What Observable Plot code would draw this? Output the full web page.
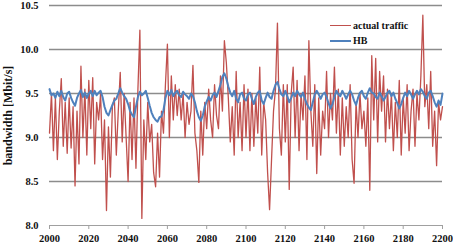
<!DOCTYPE html>
<html>
<head>
<meta charset="utf-8">
<script src="https://cdn.jsdelivr.net/npm/d3@7"></script>
<script src="https://cdn.jsdelivr.net/npm/@observablehq/plot@0.6"></script>
<style>
  html, body { margin: 0; padding: 0; background: #fff; }
  #wrap { position: relative; width: 453px; height: 250px; }
  #legend { position: absolute; left: 330px; top: 18px; font: bold 10px "Liberation Serif", "Times New Roman", serif; color: #111; }
  #legend .row { display: flex; align-items: center; height: 15px; }
  #legend .sw { width: 21px; margin-right: 2px; }
</style>
</head>
<body>
<div id="wrap"><div id="legend"></div></div>
<script>
const startYear = 2000;
const actualTraffic = [
  9.05, 9.5, 8.85, 9.45, 8.75, 9.3, 9.67, 8.9, 9.4, 8.82,
  9.45, 8.88, 9.35, 8.45, 9.3, 8.7, 9.81, 9.0, 9.55, 8.8,
  9.65, 9.1, 9.68, 8.7, 9.4, 9.2, 9.5, 8.75, 9.2, 8.17,
  9.12, 8.55, 9.35, 9.45, 8.8, 9.3, 9.74, 8.95, 9.5, 9.0,
  8.5, 9.4, 8.75, 9.45, 8.65, 9.55, 10.22, 8.08, 9.2, 8.75,
  9.4, 8.95, 9.15, 8.6, 8.44, 9.05, 8.55, 9.3, 9.05, 9.6,
  10.06, 9.0, 9.7, 9.2, 9.6, 9.25, 9.55, 9.2, 9.5, 9.0,
  9.4, 9.15, 9.3, 9.82, 9.05, 8.85, 8.49, 9.3, 8.8, 9.4,
  9.1, 9.55, 9.2, 9.0, 9.6, 9.25, 9.1, 9.7, 9.3, 10.1,
  9.85, 9.45, 8.95, 9.35, 8.8, 9.75, 9.0, 9.4, 8.85, 9.6,
  9.0, 9.55, 8.85, 9.5, 8.9, 9.45, 9.05, 9.8, 8.8, 9.4,
  9.2, 8.6, 8.18, 8.75, 9.3, 9.55, 10.3, 9.1, 8.8, 9.6,
  8.95, 9.6, 8.41, 9.5, 9.8, 9.0, 9.65, 8.85, 9.5, 9.2,
  9.7, 8.75, 10.1, 9.3, 8.9, 9.6, 8.59, 9.45, 8.8, 9.3,
  9.1, 9.75, 9.0, 9.5, 9.2, 9.8, 9.05, 9.55, 8.8, 9.45,
  8.9, 9.35, 9.0, 9.6, 8.75, 8.48, 9.4, 9.0, 9.5, 9.1,
  9.3, 8.9, 9.45, 8.4, 9.93, 9.2, 9.9, 8.95, 9.75, 9.3,
  9.7, 8.95, 9.55, 9.1, 9.5, 8.85, 9.4, 9.0, 9.65, 8.8,
  9.45, 9.05, 9.6, 8.85, 9.3, 9.55, 8.9, 9.5, 9.2, 9.7,
  10.39, 9.35, 9.6, 9.1, 9.75, 8.9, 9.3, 8.68, 9.4, 9.2, 9.35
];
const hb = [
  9.55, 9.48, 9.5, 9.45, 9.52, 9.47, 9.53, 9.46, 9.42, 9.5,
  9.52, 9.45, 9.4, 9.36, 9.45, 9.5, 9.54, 9.46, 9.51, 9.45,
  9.5, 9.53, 9.47, 9.53, 9.48, 9.51, 9.53, 9.46, 9.35, 9.28,
  9.25, 9.31, 9.37, 9.42, 9.44, 9.5, 9.56, 9.51, 9.47, 9.44,
  9.38, 9.3, 9.26, 9.23, 9.35, 9.46, 9.52, 9.48, 9.5, 9.53,
  9.45, 9.36, 9.28, 9.23, 9.2, 9.18, 9.23, 9.24, 9.31, 9.45,
  9.53, 9.48, 9.54, 9.47, 9.51, 9.53, 9.48, 9.46, 9.52, 9.49,
  9.47, 9.44, 9.5, 9.47, 9.4, 9.3, 9.23, 9.19, 9.25, 9.35,
  9.41, 9.46, 9.42, 9.48, 9.51, 9.46, 9.53, 9.6, 9.69, 9.73,
  9.67, 9.58, 9.51, 9.47, 9.53, 9.44, 9.4, 9.49, 9.51, 9.44,
  9.42, 9.49, 9.51, 9.44, 9.38, 9.46, 9.51, 9.53, 9.42, 9.38,
  9.45, 9.51, 9.46, 9.44, 9.53, 9.6, 9.63, 9.55, 9.49, 9.47,
  9.53, 9.47, 9.4, 9.45, 9.51, 9.47, 9.53, 9.49, 9.46, 9.51,
  9.44, 9.38, 9.34, 9.31, 9.4, 9.49, 9.53, 9.49, 9.44, 9.49,
  9.51, 9.46, 9.39, 9.33, 9.38, 9.46, 9.53, 9.49, 9.47, 9.53,
  9.49, 9.44, 9.49, 9.53, 9.49, 9.42, 9.37, 9.45, 9.51, 9.53,
  9.47, 9.44, 9.51, 9.56, 9.51, 9.5, 9.46, 9.44, 9.51, 9.47,
  9.42, 9.46, 9.51, 9.53, 9.47, 9.51, 9.44, 9.39, 9.33, 9.38,
  9.45, 9.51, 9.47, 9.53, 9.49, 9.44, 9.49, 9.53, 9.49, 9.55,
  9.52, 9.47, 9.44, 9.51, 9.53, 9.47, 9.4, 9.35, 9.42, 9.37, 9.5
];
const yTicks = [8.0, 8.5, 9.0, 9.5, 10.0, 10.5];
const xTicks = [2000, 2020, 2040, 2060, 2080, 2100, 2120, 2140, 2160, 2180, 2200];
const seriesNames = ["actual traffic", "HB"];
const seriesColors = ["#c0504d", "#4f81bd"];

const redData = actualTraffic.map((v, i) => ({x: startYear + i, y: v}));
const blueData = hb.map((v, i) => ({x: startYear + i, y: v}));

const font = '"Liberation Serif", "Times New Roman", serif';

const chart = Plot.plot({
  width: 453,
  height: 250,
  marginLeft: 49,
  marginRight: 11,
  marginTop: 5,
  marginBottom: 25,
  style: {fontFamily: font, fontWeight: "bold", fontSize: "10px", color: "#111", background: "#fff"},
  x: {domain: [2000, 2200]},
  y: {domain: [8.0, 10.5]},
  marks: [
    Plot.ruleY(yTicks.filter(d => d > 8), {stroke: "#8c8c8c", strokeWidth: 1.5}),
    Plot.ruleY([8.0], {stroke: "#a0a0a0", strokeWidth: 1}),
    Plot.axisX({ticks: xTicks, tickFormat: d => String(d), tickSize: 4, tickPadding: 5, stroke: "#a0a0a0", label: null, fontSize: 10.5}),
    Plot.axisY({ticks: yTicks, tickFormat: d => d.toFixed(1), tickSize: 0, tickPadding: 11, label: "bandwidth [Mbit/s]", labelAnchor: "center", labelArrow: "none", labelOffset: 46, fontSize: 10.5}),
    Plot.line(redData, {x: "x", y: "y", stroke: seriesColors[0], strokeWidth: 1.3}),
    Plot.line(blueData, {x: "x", y: "y", stroke: seriesColors[1], strokeWidth: 2})
  ]
});
chart.querySelectorAll("text").forEach(t => {
  if (t.textContent === "bandwidth [Mbit/s]") t.style.fontSize = "12px";
});
const wrap = document.getElementById("wrap");
wrap.insertBefore(chart, wrap.firstChild);

const legend = document.getElementById("legend");
seriesNames.forEach((name, i) => {
  const row = document.createElement("div");
  row.className = "row";
  const sw = document.createElement("span");
  sw.className = "sw";
  sw.style.borderTop = (i === 0 ? 1 : 2) + "px solid " + seriesColors[i];
  row.appendChild(sw);
  const label = document.createElement("span");
  label.textContent = name;
  row.appendChild(label);
  legend.appendChild(row);
});
</script>
</body>
</html>
